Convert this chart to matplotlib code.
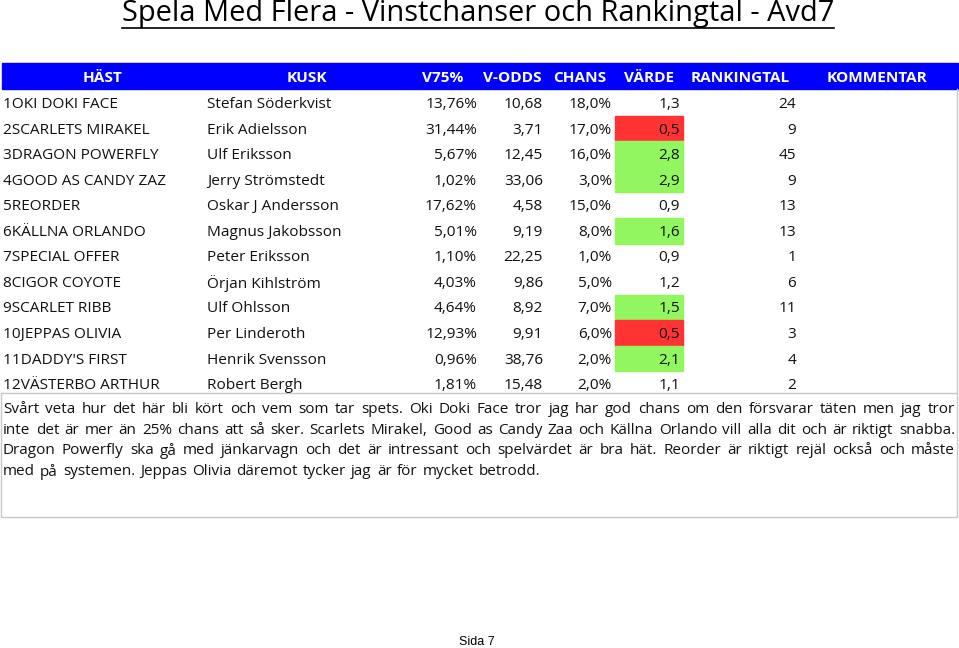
import matplotlib
matplotlib.use("Agg")
import matplotlib.pyplot as plt
from matplotlib.patches import Rectangle

# ---------------- data ----------------
title = "Spela Med Flera - Vinstchanser och Rankingtal - Avd7"
headers = ["HÄST", "KUSK", "V75%", "V-ODDS", "CHANS", "VÄRDE", "RANKINGTAL", "KOMMENTAR"]
horses = ["1OKI DOKI FACE", "2SCARLETS MIRAKEL", "3DRAGON POWERFLY", "4GOOD AS CANDY ZAZ",
          "5REORDER", "6KÄLLNA ORLANDO", "7SPECIAL OFFER", "8CIGOR COYOTE",
          "9SCARLET RIBB", "10JEPPAS OLIVIA", "11DADDY'S FIRST", "12VÄSTERBO ARTHUR"]
drivers = ["Stefan Söderkvist", "Erik Adielsson", "Ulf Eriksson", "Jerry Strömstedt",
           "Oskar J Andersson", "Magnus Jakobsson", "Peter Eriksson", "Örjan Kihlström",
           "Ulf Ohlsson", "Per Linderoth", "Henrik Svensson", "Robert Bergh"]
v75 = [13.76, 31.44, 5.67, 1.02, 17.62, 5.01, 1.10, 4.03, 4.64, 12.93, 0.96, 1.81]
vodds = [10.68, 3.71, 12.45, 33.06, 4.58, 9.19, 22.25, 9.86, 8.92, 9.91, 38.76, 15.48]
chans = [18.0, 17.0, 16.0, 3.0, 15.0, 8.0, 1.0, 5.0, 7.0, 6.0, 2.0, 2.0]
varde = [1.3, 0.5, 2.8, 2.9, 0.9, 1.6, 0.9, 1.2, 1.5, 0.5, 2.1, 1.1]
ranking = [24, 9, 45, 9, 13, 13, 1, 6, 11, 3, 4, 2]
comment_lines = [
    "Svårt veta hur det här bli kört och vem som tar spets. Oki Doki Face tror jag har god chans om den försvarar täten men jag tror",
    "inte det är mer än 25% chans att så sker. Scarlets Mirakel, Good as Candy Zaa och Källna Orlando vill alla dit och är riktigt snabba.",
    "Dragon Powerfly ska gå med jänkarvagn och det är intressant och spelvärdet är bra hät. Reorder är riktigt rejäl också och måste",
    "med på systemen. Jeppas Olivia däremot tycker jag är för mycket betrodd.",
]
footer = "Sida 7"

# ---------------- layout ----------------
W, H = 959, 648
fig = plt.figure(figsize=(W / 100, H / 100), dpi=100)
ax = fig.add_axes([0, 0, 1, 1])
ax.set_xlim(0, W)
ax.set_ylim(H, 0)
ax.axis("off")

FONT = "Open Sans"
fs = 11.1
cfs = 10.95
blue = "#0000FF"
green = "#92F75E"
red = "#FF3333"

def fmt(x, d):
    return f"{x:.{d}f}".replace(".", ",")

# title
t = ax.text(478, 13, title, ha="center", va="center", fontsize=20.9, family=FONT, color="black")
fig.canvas.draw()
r = fig.canvas.get_renderer()
bb = t.get_window_extent(r)
ax.plot([bb.x0, bb.x1], [28, 28], color="black", lw=1.2)

# header
hy0, hy1 = 63, 89
ax.add_patch(Rectangle((2, hy0), 956, hy1 - hy0, color=blue, zorder=1))
hx = [103, 307, 443, 512, 580, 649, 740, 877]
for x, h in zip(hx, headers):
    ax.text(x, 77.5, h, ha="center", va="center", fontsize=fs, family=FONT,
            color="white", fontweight="bold", zorder=3)

# rows
row0, dy = 103, 25.55
for i in range(len(horses)):
    y = row0 + i * dy
    v = varde[i]
    if v >= 1.5:
        ax.add_patch(Rectangle((615, y - dy / 2), 68, dy, color=green, zorder=1))
    elif v <= 0.5:
        ax.add_patch(Rectangle((615, y - dy / 2), 68, dy, color=red, zorder=1))
    kw = dict(va="center", fontsize=fs, family=FONT, color="#111111", zorder=3)
    ty = y + 1.5
    ax.text(3, ty, horses[i], ha="left", **kw)
    ax.text(207, ty, drivers[i], ha="left", **kw)
    ax.text(477, ty, fmt(v75[i], 2) + "%", ha="right", **kw)
    ax.text(543, ty, fmt(vodds[i], 2), ha="right", **kw)
    ax.text(612, ty, fmt(chans[i], 1) + "%", ha="right", **kw)
    ax.text(680, ty, fmt(varde[i], 1), ha="right", **kw)
    ax.text(796, ty, str(ranking[i]), ha="right", **kw)

# right border line of table
ax.plot([957, 957], [hy1, 393], color="#c8c8c8", lw=1)

# comment box
ax.add_patch(Rectangle((1, 393), 956, 124, fill=False, ec="#c8c8c8", lw=1, zorder=2))

# justified comment text
cx0, cx1 = 3, 955
cy0, cdy = 409.5, 20.7
fig.canvas.draw()
r = fig.canvas.get_renderer()
inv = ax.transData.inverted()
for li, line in enumerate(comment_lines):
    y = cy0 + li * cdy
    words = line.split(" ")
    arts = [ax.text(0, y, w, ha="left", va="center", fontsize=cfs, family=FONT, color="#111111")
            for w in words]
    widths = []
    for a in arts:
        e = a.get_window_extent(r)
        p0 = inv.transform((e.x0, 0))[0]
        p1 = inv.transform((e.x1, 0))[0]
        widths.append(p1 - p0)
    if li < len(comment_lines) - 1:
        gap = (cx1 - cx0 - sum(widths)) / (len(words) - 1)
    else:
        sp = ax.text(0, 0, "a a", fontsize=cfs, family=FONT)
        sa = ax.text(0, 0, "aa", fontsize=cfs, family=FONT)
        e1, e2 = sp.get_window_extent(r), sa.get_window_extent(r)
        gap = (e1.width - e2.width) * W / fig.bbox.width * 1.25
        sp.remove(); sa.remove()
    x = cx0
    for a, w in zip(arts, widths):
        a.set_x(x)
        x += w + gap

# footer
ax.text(477, 642, footer, ha="center", va="center", fontsize=9, family="Liberation Sans", color="black")

fig.savefig("out.png", dpi=100)
